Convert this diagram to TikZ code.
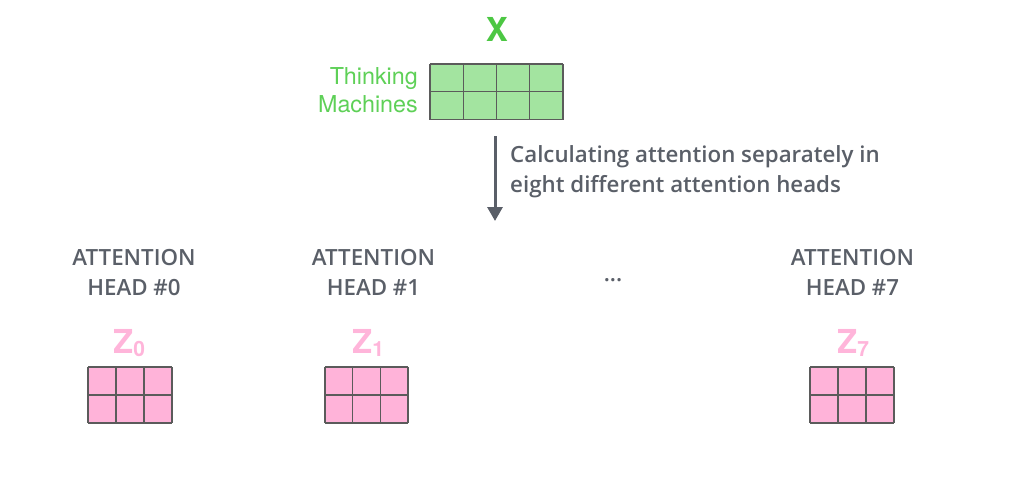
\documentclass[tikz,border=0pt]{standalone}
\usepackage{fontspec}
\usetikzlibrary{calc,arrows.meta}
\newfontfamily\headfont{Open Sans}[BoldFont={* Semibold}]
\newfontfamily\helvfont{TeX Gyre Heros}
\definecolor{xgreen}{HTML}{4CC743}
\definecolor{wordgreen}{HTML}{5ED057}
\definecolor{cellgreen}{HTML}{A3E4A0}
\definecolor{cellpink}{HTML}{FFB3D9}
\definecolor{zpink}{HTML}{FFB5DA}
\definecolor{textgray}{HTML}{5A5F68}
\definecolor{linegray}{HTML}{5B5B5B}

\begin{document}
\begin{tikzpicture}[
	x=1pt, y=-1pt,
	gridline/.style ={color=linegray, line width=1.3pt},
	headtext/.style ={font=\headfont\bfseries\fontsize{22.3}{30}\selectfont, color=textgray, align=center},
	wordtext/.style ={font=\helvfont\fontsize{23.3}{28}\selectfont, color=wordgreen, align=right},
	zlabel/.style ={font=\helvfont\bfseries\fontsize{33}{33}\selectfont, color=zpink, inner sep=0pt},
	flowarrow/.style ={color=textgray, line width=3pt, -{Triangle[width=15pt,length=14pt]}}]

	\useasboundingbox (0,0) rectangle (1018,483);

	% Syntax: {left}{top}{columns}{rows}{cell width}{cell height}{fill}
	\def\cellgrid#1#2#3#4#5#6#7{%
		\fill[#7] (#1,#2) rectangle ++(#3*#5,#4*#6);
		\foreach \i in {0,...,#3} \draw[gridline] (#1+\i*#5,#2) -- ++(0,#4*#6);
		\foreach \j in {0,...,#4} \draw[gridline] (#1,#2+\j*#6) -- ++(#3*#5,0);
	}
	\def\zsub#1{\raisebox{-3pt}{\fontsize{21}{21}\selectfont #1}}

	% input
	\node[zlabel, anchor=base, color=xgreen] (xname) at (497,41) {X};
	\node[wordtext, anchor=base east, inner sep=0pt] (words) at (418,112) {Thinking\\Machines};
	\cellgrid{430}{64}{4}{2}{33.25}{27.75}{cellgreen}

	\coordinate (arrowtop) at (495,136);
	\coordinate (arrowtip) at (495,221);
	\draw[flowarrow] (arrowtop) -- (arrowtip);
	\node[headtext, align=left, anchor=base west, inner sep=0pt] (caption) at (510,192)
		{Calculating attention separately in\\eight different attention heads};

	% heads (base = last line)
	\node[headtext, anchor=base, inner sep=0pt] (head0) at (134,295) {ATTENTION\\HEAD \#0};
	\node[headtext, anchor=base, inner sep=0pt] (head1) at (373.5,295) {ATTENTION\\HEAD \#1};
	\node[headtext, anchor=base, inner sep=0pt] (dots) at (613,281) {...};
	\node[headtext, anchor=base, inner sep=0pt] (head7) at (852.5,295) {ATTENTION\\HEAD \#7};

	\node[zlabel, anchor=base west] (z0) at (113,353) {Z\zsub{0}};
	\node[zlabel, anchor=base west] (z1) at (352,353) {Z\zsub{1}};
	\node[zlabel, anchor=base west] (z7) at (837,353) {Z\zsub{7}};

	\cellgrid{88}{367}{3}{2}{28}{28}{cellpink}
	\cellgrid{325}{367}{3}{2}{27.7}{28}{cellpink}
	\cellgrid{810}{367}{3}{2}{28}{28}{cellpink}

\end{tikzpicture}
\end{document}
